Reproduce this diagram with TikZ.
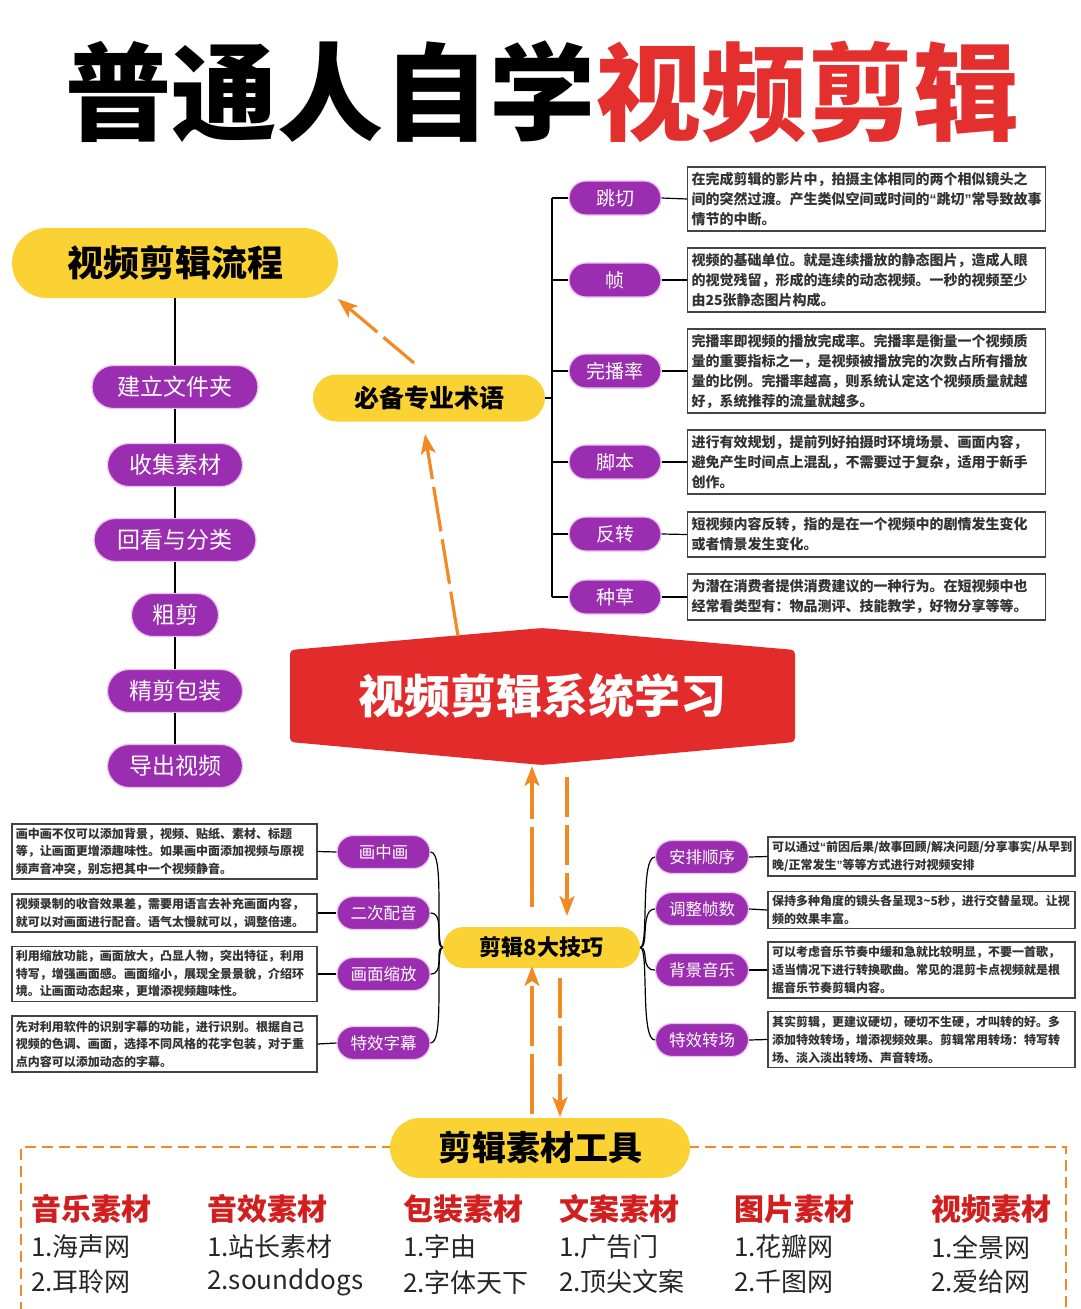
\documentclass[tikz,border=0pt]{standalone}
\usepackage{fontspec}
\setmainfont{Noto Sans CJK SC}
\newfontfamily\qf{Liberation Sans}
\newcommand\qopen{{\qf “}}
\newcommand\qclose{{\qf ”}}
\usetikzlibrary{shapes.misc,arrows.meta}
\definecolor{yel}{HTML}{FBD234}
\definecolor{pur}{HTML}{9B2DB1}
\definecolor{purline}{HTML}{EBC0F2}
\definecolor{hexred}{HTML}{E32B2B}
\definecolor{arr}{HTML}{F28A24}
\definecolor{titlered}{HTML}{E3302F}
\definecolor{headred}{HTML}{D11F1F}
\definecolor{boxline}{HTML}{444444}
\definecolor{boxtext}{HTML}{333333}
\tikzset{
  ynode/.style={shape=rounded rectangle, fill=yel, inner sep=0pt, text=black},
  pnode/.style={shape=rounded rectangle, fill=pur, draw=purline, line width=1.2pt, inner sep=0pt, text=white},
  tbox/.style={draw=boxline, line width=1.3pt, fill=white, align=left, inner sep=4pt, text=boxtext},
  tboxT/.style={tbox, text width=350pt, font=\bfseries\fontsize{14}{20}\selectfont},
  tboxL/.style={tbox, text width=297pt, font=\bfseries\fontsize{12}{17.5}\selectfont},
  tboxR/.style={tbox, text width=299pt, font=\bfseries\fontsize{12}{18}\selectfont},
  termnode/.style={pnode, minimum width=92pt, minimum height=34pt, font=\fontsize{19}{19}\selectfont},
  sidenode/.style={pnode, minimum width=93pt, minimum height=33pt, font=\fontsize{16.5}{16.5}\selectfont},
  flownode/.style={pnode, minimum height=43pt, font=\fontsize{23}{23}\selectfont},
  blackline/.style={draw=black, line width=2pt},
  thinline/.style={draw=black, line width=1.2pt},
  arrowline/.style={draw=arr, line width=3.2pt, dash pattern=on 45pt off 8pt, -{Stealth[length=20pt,width=15pt,inset=5pt]}},
  headtext/.style={anchor=west, text=headred, font=\bfseries\fontsize{30}{30}\selectfont, inner sep=0pt},
  itemtext/.style={anchor=west, text=black!85, font=\fontsize{26}{26}\selectfont, inner sep=0pt}
}
\begin{document}
\begin{tikzpicture}[x=1pt,y=-1pt]
\useasboundingbox[fill=white] (0,0) rectangle (1080,1309);

% title
\node[font=\bfseries\fontsize{106}{106}\selectfont, inner sep=0pt] (title) at (542,92)
  {{\color{black}普通人自学}{\color{titlered}视频剪辑}};

% flow (left)
\node[ynode, minimum width=326pt, minimum height=70pt, font=\bfseries\fontsize{36}{36}\selectfont] (flow) at (175,263) {视频剪辑流程};
\node[flownode, minimum width=166pt] (f1) at (175,387) {建立文件夹};
\node[flownode, minimum width=135pt] (f2) at (175,465) {收集素材};
\node[flownode, minimum width=162pt] (f3) at (175,540) {回看与分类};
\node[flownode, minimum width=87pt]  (f4) at (175,615) {粗剪};
\node[flownode, minimum width=135pt] (f5) at (175,691) {精剪包装};
\node[flownode, minimum width=135pt] (f6) at (175,766) {导出视频};
\draw[blackline] (flow.south) -- (f1.north);
\draw[blackline] (f1.south) -- (f2.north);
\draw[blackline] (f2.south) -- (f3.north);
\draw[blackline] (f3.south) -- (f4.north);
\draw[blackline] (f4.south) -- (f5.north);
\draw[blackline] (f5.south) -- (f6.north);

% terms
\node[ynode, minimum width=232pt, minimum height=47pt, font=\bfseries\fontsize{25}{25}\selectfont] (bibei) at (429,398) {必备专业术语};
\coordinate (br) at (552,398);
\node[termnode] (t1) at (615,198) {跳切};
\node[termnode] (t2) at (615,280) {帧};
\node[termnode] (t3) at (615,371) {完播率};
\node[termnode] (t4) at (615,462) {脚本};
\node[termnode] (t5) at (615,534) {反转};
\node[termnode] (t6) at (615,597) {种草};
\draw[blackline] (bibei.east) -- (br);
\draw[blackline] (br |- t1.west) -- (br |- t6.west);
\foreach \t in {t1,t2,t3,t4,t5,t6} {\draw[blackline] (br |- \t.west) -- (\t.west);}

\node[tboxT, minimum height=64pt] (b1) at (866.5,199) {在完成剪辑的影片中，拍摄主体相同的两个相似镜头之\\间的突然过渡。产生类似空间或时间的\qopen 跳切\qclose 常导致故事\\情节的中断。};
\node[tboxT, minimum height=64pt] (b2) at (866.5,280) {视频的基础单位。就是连续播放的静态图片，造成人眼\\的视觉残留，形成的连续的动态视频。一秒的视频至少\\由25张静态图片构成。};
\node[tboxT, minimum height=84pt] (b3) at (866.5,371) {完播率即视频的播放完成率。完播率是衡量一个视频质\\量的重要指标之一，是视频被播放完的次数占所有播放\\量的比例。完播率越高，则系统认定这个视频质量就越\\好，系统推荐的流量就越多。};
\node[tboxT, minimum height=64pt] (b4) at (866.5,462) {进行有效规划，提前列好拍摄时环境场景、画面内容，\\避免产生时间点上混乱，不需要过于复杂，适用于新手\\创作。};
\node[tboxT, minimum height=45pt] (b5) at (866.5,534.5) {短视频内容反转，指的是在一个视频中的剧情发生变化\\或者情景发生变化。};
\node[tboxT, minimum height=46pt] (b6) at (866.5,597) {为潜在消费者提供消费建议的一种行为。在短视频中也\\经常看类型有：物品测评、技能教学，好物分享等等。};
\foreach \i in {1,...,6} {\draw[thinline] (t\i.east) -- (b\i.west);}

% core hexagon
\fill[hexred, rounded corners=4pt] (290,650) -- (542,628) -- (795,650) -- (795,742) -- (542,765) -- (290,742) -- cycle;
\node[text=white, font=\bfseries\fontsize{46}{46}\selectfont, inner sep=0pt] (core) at (542,696) {视频剪辑系统学习};

% arrows up top
\coordinate (a1s) at (458,636);
\coordinate (a1e) at (425,434);
\coordinate (a2s) at (414,363);
\coordinate (a2e) at (338,299);
\draw[arrowline] (a1s) -- (a1e);
\draw[arrowline, dash pattern=on 40pt off 8pt] (a2s) -- (a2e);

% techniques
\node[ynode, minimum width=197pt, minimum height=41pt, font=\bfseries\fontsize{22}{22}\selectfont] (jq) at (541.5,947.5) {剪辑8大技巧};

\node[sidenode] (l1) at (383.5,852) {画中画};
\node[sidenode] (l2) at (383.5,913) {二次配音};
\node[sidenode] (l3) at (383.5,974) {画面缩放};
\node[sidenode] (l4) at (383.5,1043) {特效字幕};
\node[sidenode] (r1) at (702,857) {安排顺序};
\node[sidenode] (r2) at (702,909) {调整帧数};
\node[sidenode] (r3) at (702,970) {背景音乐};
\node[sidenode] (r4) at (702,1040) {特效转场};
\foreach \i in {1,...,4} {
  \draw[thinline] (jq.west) .. controls +(-9,0) and +(15,0) .. (l\i.east);
  \draw[thinline] (jq.east) .. controls +(9,0) and +(-15,0) .. (r\i.west);
}

\node[tboxL, minimum height=55pt] (lb1) at (164.5,851.5) {画中画不仅可以添加背景，视频、贴纸、素材、标题\\等，让画面更增添趣味性。如果画中面添加视频与原视\\频声音冲突，别忘把其中一个视频静音。};
\node[tboxL, minimum height=38pt] (lb2) at (164.5,913) {视频录制的收音效果差，需要用语言去补充画面内容，\\就可以对画面进行配音。语气太慢就可以，调整倍速。};
\node[tboxL, minimum height=54pt] (lb3) at (164.5,974) {利用缩放功能，画面放大，凸显人物，突出特征，利用\\特写，增强画面感。画面缩小，展现全景景貌，介绍环\\境。让画面动态起来，更增添视频趣味性。};
\node[tboxL, minimum height=56pt] (lb4) at (164.5,1044) {先对利用软件的识别字幕的功能，进行识别。根据自己\\视频的色调、画面，选择不同风格的花字包装，对于重\\点内容可以添加动态的字幕。};
\foreach \i in {1,...,4} {\draw[thinline] (lb\i.east) -- (l\i.west);}

\node[tboxR, minimum height=39pt] (rb1) at (921.5,856.5) {可以通过\qopen 前因后果/故事回顾/解决问题/分享事实/从早到\\晚/正常发生\qclose 等等方式进行对视频安排};
\node[tboxR, minimum height=37pt] (rb2) at (921.5,910) {保持多种角度的镜头各呈现3\textasciitilde5秒，进行交替呈现。让视\\频的效果丰富。};
\node[tboxR, minimum height=56pt] (rb3) at (921.5,970) {可以考虑音乐节奏中缓和急就比较明显，不要一首歌，\\适当情况下进行转换歌曲。常见的混剪卡点视频就是根\\据音乐节奏剪辑内容。};
\node[tboxR, minimum height=55pt] (rb4) at (921.5,1039.5) {其实剪辑，更建议硬切，硬切不生硬，才叫转的好。多\\添加特效转场，增添视频效果。剪辑常用转场：特写转\\场、淡入淡出转场、声音转场。};
\foreach \i in {1,...,4} {\draw[thinline] (r\i.east) -- (rb\i.west);}

% vertical arrows
\coordinate (a3s) at (532,907);
\coordinate (a3e) at (532,766);
\coordinate (a4s) at (567,777);
\coordinate (a4e) at (567,916);
\coordinate (a5s) at (532,1114);
\coordinate (a5e) at (532,966);
\coordinate (a6s) at (560,978);
\coordinate (a6e) at (560,1117);
\draw[arrowline, dash pattern=on 80pt off 8pt] (a3s) -- (a3e);
\draw[arrowline, dash pattern=on 40pt off 8pt] (a4s) -- (a4e);
\draw[arrowline, dash pattern=on 60pt off 8pt] (a5s) -- (a5e);
\draw[arrowline, dash pattern=on 40pt off 8pt] (a6s) -- (a6e);

% tools section
\draw[draw=arr, line width=2.5pt, dash pattern=on 11pt off 6pt] (21,1330) -- (21,1147) -- (1066,1147) -- (1066,1330);
\node[ynode, minimum width=300pt, minimum height=60pt, font=\bfseries\fontsize{34}{34}\selectfont] (tools) at (540,1148) {剪辑素材工具};

\node[headtext] (h1) at (31,1209) {音乐素材};
\node[headtext] (h2) at (207,1209) {音效素材};
\node[headtext] (h3) at (403,1209) {包装素材};
\node[headtext] (h4) at (559,1209) {文案素材};
\node[headtext] (h5) at (734,1209) {图片素材};
\node[headtext] (h6) at (931,1209) {视频素材};
\node[itemtext] (i11) at (31,1247) {1.海声网};
\node[itemtext] (i12) at (31,1282) {2.耳聆网};
\node[itemtext] (i21) at (207,1247) {1.站长素材};
\node[itemtext] (i22) at (207,1282) {2.sounddogs};
\node[itemtext] (i31) at (403,1247) {1.字由};
\node[itemtext] (i32) at (403,1282) {2.字体天下};
\node[itemtext] (i41) at (559,1247) {1.广告门};
\node[itemtext] (i42) at (559,1282) {2.顶尖文案};
\node[itemtext] (i51) at (734,1247) {1.花瓣网};
\node[itemtext] (i52) at (734,1282) {2.千图网};
\node[itemtext] (i61) at (931,1247) {1.全景网};
\node[itemtext] (i62) at (931,1282) {2.爱给网};
\end{tikzpicture}
\end{document}
